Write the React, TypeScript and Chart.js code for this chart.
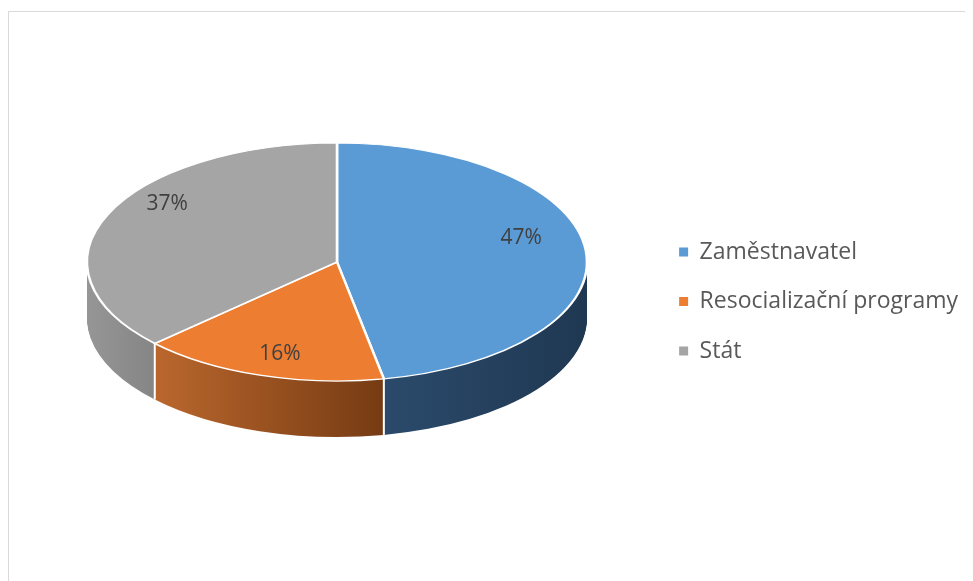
import React, { useEffect, useRef } from "react";
import { Chart, registerables } from "chart.js";

Chart.register(...registerables);

// ---- data ----
const LABELS = ["Zaměstnavatel", "Resocializační programy", "Stát"];
const VALUES = [47, 16, 37];

// ---- styles ----
const TOP_COLORS = ["#5B9BD5", "#ED7D31", "#A5A5A5"];
const WALL_COLORS = [
  ["#2B4A6B", "#1F3852"],
  ["#BA672D", "#763B13"],
  ["#969696", "#858585"],
];
const FONT = "'Open Sans', 'DejaVu Sans', sans-serif";
const CANVAS_W = 965;
const CANVAS_H = 573;
const PIE_X = 329;
const PIE_Y = 254;
const PIE_R = 250;
const TILT = 0.476;
const DEPTH = 56;
const LABEL_R = 0.74;
const LABEL_LIFT = 14;
const LABEL_TILT = 0.6;

function getArcs(chart: any) {
  const meta = chart.getDatasetMeta(0);
  return meta.data as any[];
}

const pie3d = {
  id: "pie3d",
  beforeDraw(chart: any) {
    const ctx = chart.ctx;
    ctx.save();
    ctx.strokeStyle = "#D9D9D9";
    ctx.lineWidth = 1;
    ctx.strokeRect(0.5, 3.5, 3000, 3000);
    ctx.restore();
  },
  beforeDatasetsDraw(chart: any) {
    const ctx = chart.ctx;
    const arcs = getArcs(chart);
    if (!arcs.length) return;
    const cx = arcs[0].x;
    const cy = arcs[0].y;
    const r = arcs[0].outerRadius;
    const grads = arcs.map((el: any, j: number) => {
      const a0 = Math.max(el.startAngle, 0);
      const a1 = Math.min(el.endAngle, Math.PI);
      let xl = cx - r, xr = cx + r;
      if (a0 < a1) {
        xl = cx + r * Math.cos(a1);
        xr = cx + r * Math.cos(a0);
      }
      const g = ctx.createLinearGradient(xl, 0, xr, 0);
      g.addColorStop(0, WALL_COLORS[j][0]);
      g.addColorStop(1, WALL_COLORS[j][1]);
      return g;
    });
    for (let i = DEPTH; i >= 1; i--) {
      ctx.save();
      ctx.translate(PIE_X, PIE_Y + i);
      ctx.scale(1, TILT);
      ctx.translate(-cx, -cy);
      arcs.forEach((el: any, j: number) => {
        const tmp = Object.create(el);
        tmp.options = Object.assign({}, el.options, {
          backgroundColor: grads[j],
          borderWidth: 0,
        });
        tmp.draw(ctx);
      });
      ctx.restore();
    }
    // slice boundaries on the side wall
    ctx.save();
    ctx.strokeStyle = "#FFFFFF";
    ctx.lineWidth = 2;
    arcs.forEach((el: any) => {
      const a = el.startAngle;
      if (a > 0 && a < Math.PI) {
        const x = PIE_X + r * Math.cos(a);
        const y = PIE_Y + r * Math.sin(a) * TILT;
        ctx.beginPath();
        ctx.moveTo(x, y);
        ctx.lineTo(x, y + DEPTH);
        ctx.stroke();
      }
    });
    ctx.restore();
    ctx.save();
    ctx.translate(PIE_X, PIE_Y);
    ctx.scale(1, TILT);
    ctx.translate(-cx, -cy);
  },
  afterDatasetsDraw(chart: any) {
    const ctx = chart.ctx;
    ctx.restore();
    const arcs = getArcs(chart);
    const total = VALUES.reduce((a, b) => a + b, 0);
    ctx.save();
    ctx.fillStyle = "#404040";
    ctx.font = `21px ${FONT}`;
    ctx.textAlign = "center";
    ctx.textBaseline = "middle";
    arcs.forEach((el: any, j: number) => {
      const r = el.outerRadius;
      const mid = (el.startAngle + el.endAngle) / 2;
      const x = PIE_X + LABEL_R * r * Math.cos(mid);
      const y = PIE_Y - LABEL_LIFT + LABEL_R * r * Math.sin(mid) * LABEL_TILT;
      ctx.fillText(Math.round((VALUES[j] / total) * 100) + "%", x, y);
    });
    ctx.restore();
  },
};

export default function App() {
  const ref = useRef<HTMLCanvasElement | null>(null);
  useEffect(() => {
    if (!ref.current) return;
    Chart.defaults.font.family = FONT;
    const chart = new Chart(ref.current, {
      type: "doughnut",
      data: {
        labels: LABELS,
        datasets: [
          {
            data: VALUES,
            backgroundColor: TOP_COLORS,
            borderColor: "#FFFFFF",
            borderWidth: 2.6,
            hoverOffset: 0,
            clip: false as any,
          },
        ],
      },
      options: {
        responsive: false,
        animation: false,
        devicePixelRatio: 1,
        events: [],
        cutout: 0,
        radius: PIE_R,
        layout: { padding: { top: 14, right: 5, bottom: 0, left: 0 } },
        plugins: {
          tooltip: { enabled: false },
          legend: {
            position: "right",
            labels: {
              boxWidth: 9,
              boxHeight: 9,
              padding: 26.5,
              color: "#595959",
              font: { size: 23, family: FONT },
              generateLabels: () =>
                LABELS.map((t, i) => ({
                  text: t,
                  fillStyle: TOP_COLORS[i],
                  strokeStyle: TOP_COLORS[i],
                  lineWidth: 0,
                  hidden: false,
                  index: i,
                  fontColor: "#595959",
                })),
            },
          },
        },
      } as any,
      plugins: [pie3d],
    });
    return () => chart.destroy();
  }, []);
  return (
    <div style={{ width: CANVAS_W, height: CANVAS_H }}>
      <canvas ref={ref} width={CANVAS_W} height={CANVAS_H} style={{ display: "block" }} />
    </div>
  );
}
